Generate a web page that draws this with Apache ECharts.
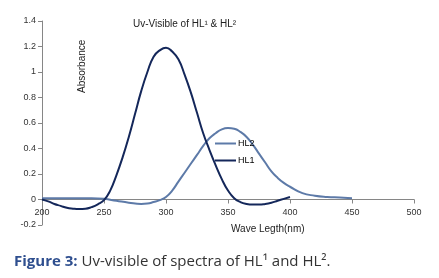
<!DOCTYPE html>
<html>
  <head>
    <title></title>
    <meta charset="UTF-8" />
    <script src="https://cdn.jsdelivr.net/npm/echarts@6/dist/echarts.min.js"></script>
    <style>
      body { margin: 0; background: #fff; }
    </style>
  </head>
  <body>
    <div id="main"></div>
    <script>
      const width = 439;
      const height = 278;
      const main = document.getElementById('main');
      main.style.width = `${width}px`;
      main.style.height = `${height}px`;

      // wavelengths (nm) and absorbance
      const waveHL1 = [200, 205, 210, 215, 220, 225, 230, 235, 240, 245, 250, 255, 260, 265, 270, 275, 280, 285, 290, 295, 300,
        305, 310, 315, 320, 325, 330, 335, 340, 345, 350, 355, 360, 365, 370, 375, 380, 385, 390, 395, 400];
      const absHL1 = [0, -0.015, -0.035, -0.05, -0.065, -0.072, -0.075, -0.073, -0.06, -0.038, -0.005, 0.07, 0.19, 0.33, 0.49, 0.67, 0.85, 1.0, 1.12, 1.17, 1.19,
        1.16, 1.1, 0.98, 0.84, 0.68, 0.52, 0.39, 0.27, 0.16, 0.07, 0.01, -0.02, -0.035, -0.04, -0.04, -0.035, -0.025, -0.01, 0.005, 0.02];

      const waveHL2 = [200, 210, 220, 230, 240, 250, 260, 270, 280, 285, 290, 295, 300, 305, 310, 315, 320, 325, 330, 335, 340, 345, 350,
        355, 360, 365, 370, 375, 380, 385, 390, 395, 400, 410, 420, 430, 440, 450];
      const absHL2 = [0.01, 0.01, 0.01, 0.01, 0.01, 0.005, -0.01, -0.025, -0.035, -0.032, -0.02, -0.005, 0.02, 0.07, 0.14, 0.21, 0.28, 0.35, 0.42, 0.48, 0.52, 0.55, 0.56,
        0.555, 0.53, 0.49, 0.43, 0.36, 0.29, 0.22, 0.17, 0.13, 0.1, 0.05, 0.03, 0.02, 0.015, 0.01];

      const font = 'Liberation Sans';
      const axisColor = '#868686';

      const pairs = (xs, ys) => xs.map((x, i) => [x, ys[i]]);

      const myChart = echarts.init(main);
      const option = {
        animation: false,
        textStyle: { fontFamily: font },
        grid: { left: 42, right: 25, top: 21, bottom: 53 },
        legend: {
          orient: 'vertical',
          left: 210,
          top: 134,
          itemWidth: 21,
          itemHeight: 2,
          itemGap: 8,
          icon: 'rect',
          data: ['HL2', 'HL1'],
          textStyle: { fontSize: 9, color: '#000', padding: [0, 0, 0, -3] },
        },
        xAxis: {
          type: 'value',
          min: 200,
          max: 500,
          interval: 50,
          offset: -25.5,
          splitLine: { show: false },
          axisLine: { onZero: false, lineStyle: { color: axisColor } },
          axisTick: { show: true, length: 4, lineStyle: { color: axisColor } },
          axisLabel: { fontSize: 9, color: '#333', margin: 9 },
        },
        yAxis: {
          type: 'value',
          min: -0.2,
          max: 1.4,
          interval: 0.2,
          splitLine: { show: false },
          axisLine: { show: true, lineStyle: { color: axisColor } },
          axisTick: { show: true, length: 4, lineStyle: { color: axisColor } },
          axisLabel: { fontSize: 9, color: '#333', margin: 6 },
        },
        graphic: [
          {
            type: 'text',
            left: 133,
            top: 19,
            style: { text: 'Uv-Visible of HL¹ & HL²', font: `10px "${font}"`, fill: '#222' },
          },
          {
            type: 'text',
            x: 77,
            y: 93,
            rotation: Math.PI / 2,
            style: { text: 'Absorbance', font: `10px "${font}"`, fill: '#222' },
          },
          {
            type: 'text',
            left: 231,
            top: 224,
            style: { text: 'Wave Legth(nm)', font: `10px "${font}"`, fill: '#222' },
          },
          {
            type: 'text',
            left: 14,
            top: 254,
            style: {
              text: '{b|Figure 3:} Uv-visible of spectra of HL¹ and HL².',
              font: '15px "Open Sans"',
              fill: '#333',
              rich: {
                b: { fontFamily: 'Open Sans', fontSize: 15, fontWeight: 'bold', fill: '#2f4f8f' },
              },
            },
          },
        ],
        series: [
          {
            name: 'HL2',
            type: 'line',
            smooth: 0.5,
            showSymbol: false,
            data: pairs(waveHL2, absHL2),
            color: '#5d7aa8',
            lineStyle: { width: 2, color: '#5d7aa8' },
          },
          {
            name: 'HL1',
            type: 'line',
            smooth: 0.5,
            showSymbol: false,
            data: pairs(waveHL1, absHL1),
            color: '#14275a',
            lineStyle: { width: 2, color: '#14275a' },
          },
        ],
      };
      myChart.setOption(option);
    </script>
  </body>
</html>
